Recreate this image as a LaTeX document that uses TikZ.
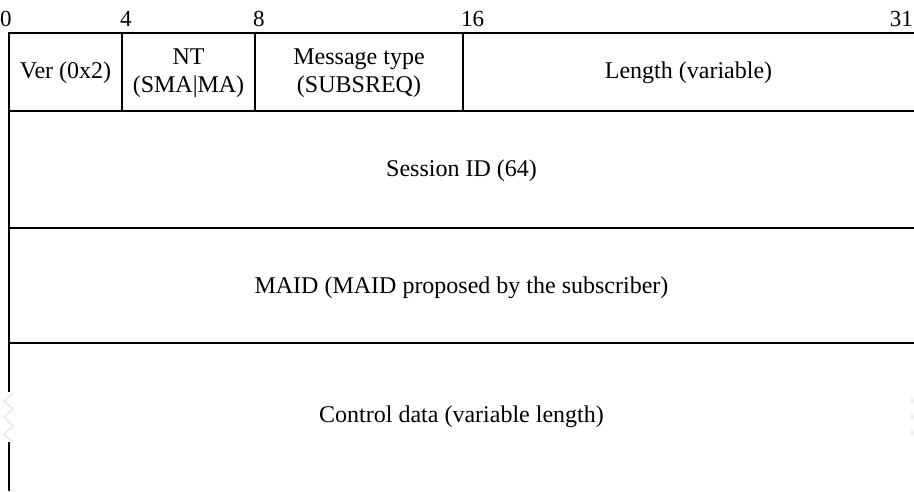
\documentclass[tikz,border=0pt]{standalone}
\usepackage{fontspec}
\setmainfont{Liberation Serif}
\begin{document}
\begin{tikzpicture}[x=1pt,y=-1pt,
  rule/.style={line width=2pt},
  faint/.style={draw=black!9,line width=1.5pt},
  lbl/.style={font=\fontsize{24}{28}\selectfont,inner sep=0pt,align=center},
  bitnum/.style={font=\fontsize{23}{27}\selectfont,inner sep=0pt,anchor=base west}]
\useasboundingbox (0,0) rectangle (914,491);
% frame lines
\draw[rule] (9,33) -- (914,33);
\draw[rule] (9,111) -- (914,111);
\draw[rule] (9,228) -- (914,228);
\draw[rule] (9,343) -- (914,343);
\draw[rule] (9,32) -- (9,392);
\draw[rule] (9,442) -- (9,491);
\draw[rule] (122,33) -- (122,111);
\draw[rule] (255,33) -- (255,111);
\draw[rule] (463,33) -- (463,111);
% faint break marks
\draw[faint,line join=round] (13,393) -- (4,401) -- (13,409) -- (4,417) -- (13,426) -- (4,434) -- (13,442);
\draw[faint] (912,398) -- (912,403);
\draw[faint] (912,414) -- (912,419);
\draw[faint] (912,430) -- (912,435);
% bit numbers
\node[bitnum] (b0) at (0,26) {0};
\node[bitnum] (b4) at (120,26) {4};
\node[bitnum] (b8) at (253,26) {8};
\node[bitnum] (b16) at (461,26) {16};
\node[bitnum,anchor=base east] (b31) at (913,26) {31};
% fields
\node[lbl] (ver) at (65.5,73) {Ver (0x2)};
\node[lbl] (nt) at (188.5,73) {NT\\(SMA|MA)};
\node[lbl] (mt) at (359,73) {Message type\\(SUBSREQ)};
\node[lbl] (len) at (688.5,73) {Length (variable)};
\node[lbl] (sid) at (461.5,171) {Session ID (64)};
\node[lbl] (maid) at (461.5,288) {MAID (MAID proposed by the subscriber)};
\node[lbl] (ctl) at (461.5,417) {Control data (variable length)};
\end{tikzpicture}
\end{document}
